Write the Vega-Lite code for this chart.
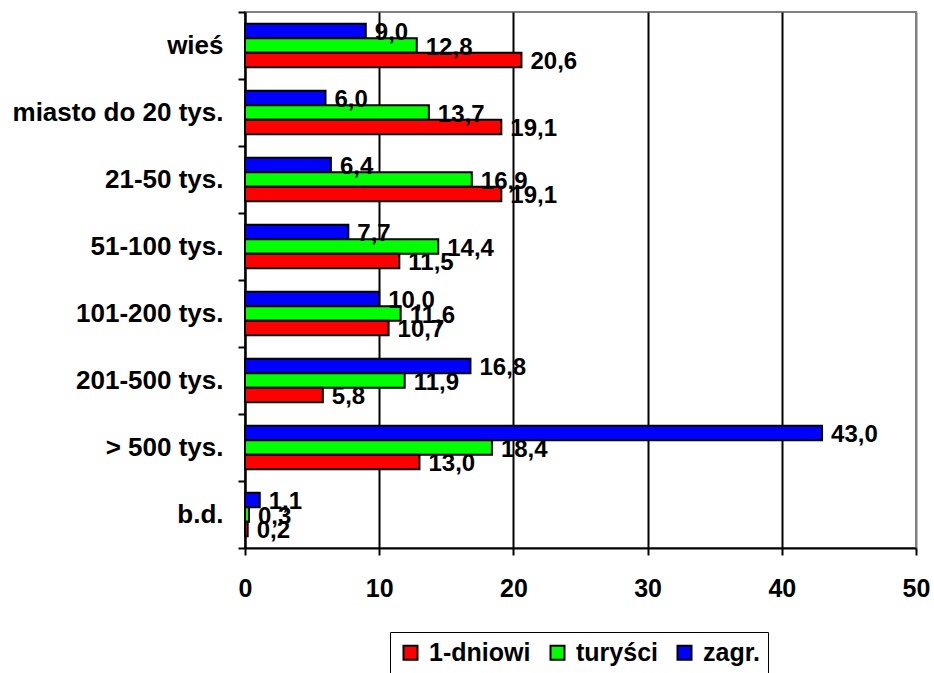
{
  "$schema": "https://vega.github.io/schema/vega-lite/v6.json",
  "width": 671,
  "height": 536,
  "autosize": {"type": "none"},
  "padding": {"left": 245, "top": 12, "right": 18, "bottom": 125},
  "background": "white",
  "config": {
    "locale": {"number": {"decimal": ",", "thousands": " ", "grouping": [3], "currency": ["", " zł"]}},
    "font": "Liberation Sans",
    "view": {"stroke": "#808080", "strokeWidth": 2}
  },
  "data": {
    "values": [
      {"kat": "wieś", "grupa": "zagr.", "wartosc": 9.0},
      {"kat": "wieś", "grupa": "turyści", "wartosc": 12.8},
      {"kat": "wieś", "grupa": "1-dniowi", "wartosc": 20.6},
      {"kat": "miasto do 20 tys.", "grupa": "zagr.", "wartosc": 6.0},
      {"kat": "miasto do 20 tys.", "grupa": "turyści", "wartosc": 13.7},
      {"kat": "miasto do 20 tys.", "grupa": "1-dniowi", "wartosc": 19.1},
      {"kat": "21-50 tys.", "grupa": "zagr.", "wartosc": 6.4},
      {"kat": "21-50 tys.", "grupa": "turyści", "wartosc": 16.9},
      {"kat": "21-50 tys.", "grupa": "1-dniowi", "wartosc": 19.1},
      {"kat": "51-100 tys.", "grupa": "zagr.", "wartosc": 7.7},
      {"kat": "51-100 tys.", "grupa": "turyści", "wartosc": 14.4},
      {"kat": "51-100 tys.", "grupa": "1-dniowi", "wartosc": 11.5},
      {"kat": "101-200 tys.", "grupa": "zagr.", "wartosc": 10.0},
      {"kat": "101-200 tys.", "grupa": "turyści", "wartosc": 11.6},
      {"kat": "101-200 tys.", "grupa": "1-dniowi", "wartosc": 10.7},
      {"kat": "201-500 tys.", "grupa": "zagr.", "wartosc": 16.8},
      {"kat": "201-500 tys.", "grupa": "turyści", "wartosc": 11.9},
      {"kat": "201-500 tys.", "grupa": "1-dniowi", "wartosc": 5.8},
      {"kat": "> 500 tys.", "grupa": "zagr.", "wartosc": 43.0},
      {"kat": "> 500 tys.", "grupa": "turyści", "wartosc": 18.4},
      {"kat": "> 500 tys.", "grupa": "1-dniowi", "wartosc": 13.0},
      {"kat": "b.d.", "grupa": "zagr.", "wartosc": 1.1},
      {"kat": "b.d.", "grupa": "turyści", "wartosc": 0.3},
      {"kat": "b.d.", "grupa": "1-dniowi", "wartosc": 0.2}
    ]
  },
  "encoding": {
    "y": {
      "field": "kat",
      "type": "nominal",
      "sort": ["wieś", "miasto do 20 tys.", "21-50 tys.", "51-100 tys.", "101-200 tys.", "201-500 tys.", "> 500 tys.", "b.d."],
      "scale": {"paddingInner": 0, "paddingOuter": 0},
      "axis": {
        "title": null,
        "domainColor": "black",
        "domainWidth": 2,
        "tickBand": "extent",
        "tickColor": "black",
        "tickWidth": 2,
        "tickSize": 7,
        "labelFont": "Liberation Sans",
        "labelFontSize": 26,
        "labelFontWeight": "bold",
        "labelColor": "black",
        "labelPadding": 15,
        "labelLimit": 400,
        "grid": false
      }
    },
    "yOffset": {
      "field": "grupa",
      "type": "nominal",
      "sort": ["zagr.", "turyści", "1-dniowi"],
      "scale": {"paddingInner": 0, "paddingOuter": 0.8}
    },
    "x": {
      "field": "wartosc",
      "type": "quantitative",
      "scale": {"domain": [0, 50], "nice": false},
      "axis": {
        "title": null,
        "values": [0, 10, 20, 30, 40, 50],
        "format": "d",
        "domainColor": "black",
        "domainWidth": 2,
        "tickColor": "black",
        "tickWidth": 2,
        "tickSize": 7,
        "grid": true,
        "gridColor": {"condition": {"test": "datum.value === 50", "value": "#808080"}, "value": "black"},
        "gridWidth": 2,
        "gridOpacity": 1,
        "labelFont": "Liberation Sans",
        "labelFontSize": 25,
        "labelFontWeight": "bold",
        "labelColor": "black",
        "labelPadding": 21,
        "labelFlush": false
      }
    }
  },
  "layer": [
    {
      "mark": {"type": "bar", "stroke": "black", "strokeWidth": 2, "opacity": 1},
      "encoding": {
        "color": {
          "field": "grupa",
          "type": "nominal",
          "scale": {"domain": ["1-dniowi", "turyści", "zagr."], "range": ["#FF0000", "#00FF00", "#0000FF"]},
          "legend": {
            "title": null,
            "orient": "none",
            "legendX": 145,
            "legendY": 620,
            "direction": "horizontal",
            "strokeColor": "black",
            "fillColor": "white",
            "padding": 8,
            "symbolType": "square",
            "symbolSize": 196,
            "symbolStrokeColor": "black",
            "symbolStrokeWidth": 2,
            "symbolOpacity": 1,
            "labelFont": "Liberation Sans",
            "labelFontSize": 25,
            "labelFontWeight": "bold",
            "labelColor": "black",
            "labelOffset": 6,
            "columnPadding": 14
          }
        }
      }
    },
    {
      "mark": {"type": "text", "align": "left", "baseline": "middle", "dx": 9, "dy": 2, "fontSize": 24, "fontWeight": "bold", "font": "Liberation Sans", "color": "black"},
      "encoding": {
        "text": {"field": "wartosc", "type": "quantitative", "format": ".1f"}
      }
    }
  ]
}
